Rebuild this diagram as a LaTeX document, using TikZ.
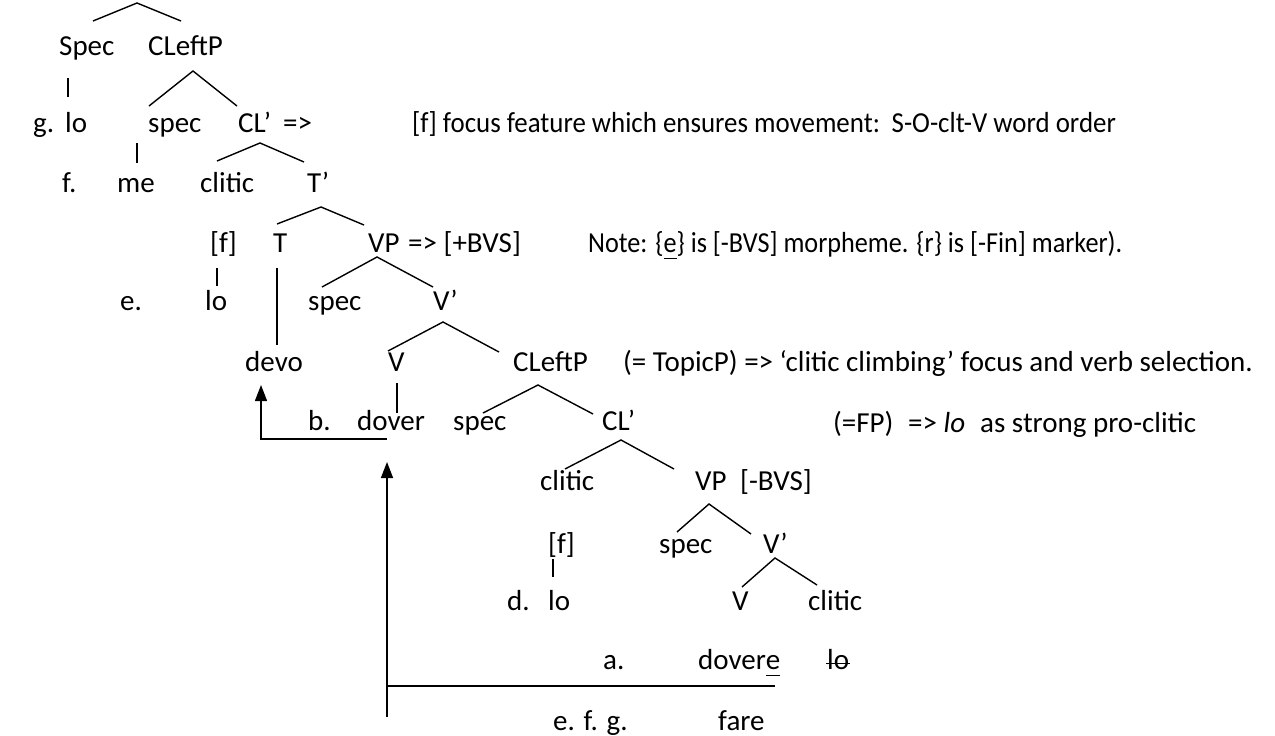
\documentclass[tikz,border=0pt]{standalone}
\usepackage{fontspec}
\usepackage{graphicx}
\setmainfont{Carlito}
\usetikzlibrary{arrows.meta}
\newcommand{\myul}[1]{\setbox0\hbox{#1}\rlap{\rule[-7pt]{\wd0}{1.5pt}}\box0}
\newcommand{\mystrike}[1]{\setbox0\hbox{#1}\rlap{\kern-1pt\rule[5pt]{\dimexpr\wd0+2pt\relax}{1.5pt}}\box0}
\begin{document}
\begin{tikzpicture}[x=1pt,y=-1pt,
  txt/.style={anchor=base west, inner sep=0pt, font=\fontsize{29}{34}\selectfont},
  br/.style={line width=1.4pt},
  arr/.style={line width=1.4pt, -{Triangle[width=12pt,length=16pt]}}]
\useasboundingbox (0,0) rectangle (1275,736);
% Row 1
\node[txt] (Spec1) at (59,55) {Spec};
\node[txt] (CLeftP1) at (148,55) {CLeftP};
% Row 2
\node[txt] (g) at (33,132) {g.};
\node[txt] (lo1) at (65,132) {lo};
\node[txt] (spec1) at (148,132) {spec};
\node[txt] (CL1) at (238,132) {CL’};
\node[txt] (arr1) at (283,132) {=>};
\node[txt] (note1) at (412,132) {\scalebox{0.927}[1]{[f] focus feature which ensures movement:\hspace{4pt} S-O-clt-V word order}};
% Row 3
\node[txt] (f) at (62,192) {f.};
\node[txt] (me) at (117,192) {me};
\node[txt] (clitic1) at (200,192) {clitic};
\node[txt] (Tbar) at (307,192) {T’};
% Row 4
\node[txt] (ff1) at (210,252) {[f]};
\node[txt] (T) at (273,252) {T};
\node[txt] (VP1) at (368,252) {VP};
\node[txt] (bvs1) at (408,252) {=> [+BVS]};
\node[txt] (note2) at (588,252) {\scalebox{0.903}[1]{Note: \{\myul{e}\} is [-BVS] morpheme. \{r\} is [-Fin] marker).}};
% Row 5
\node[txt] (e1) at (120,310) {e.};
\node[txt] (lo2) at (205,310) {lo};
\node[txt] (spec2) at (308,310) {spec};
\node[txt] (Vbar1) at (433,310) {V’};
% Row 6
\node[txt] (devo) at (245,371) {devo};
\node[txt] (V1) at (388,371) {V};
\node[txt] (CLeftP2) at (513,371) {CLeftP};
\node[txt] (note3) at (623,371) {(= TopicP) => ‘clitic climbing’ focus and verb selection.};
% Row 7
\node[txt] (b) at (308,430) {b.};
\node[txt] (dover) at (357,430) {dover};
\node[txt] (spec3) at (453,430) {spec};
\node[txt] (CL2) at (602,430) {CL’};
\node[txt] (fp) at (833,432) {(=FP)};
\node[txt] (fp2) at (908,432) {=> \textit{lo}};
\node[txt] (fp3) at (980,432) {as strong pro-clitic};
% Row 8
\node[txt] (clitic2) at (540,490) {clitic};
\node[txt] (VP2) at (695,490) {VP};
\node[txt] (bvs2) at (740,490) {[-BVS]};
% Row 9
\node[txt] (ff2) at (548,553) {[f]};
\node[txt] (spec4) at (659,553) {spec};
\node[txt] (Vbar2) at (763,553) {V’};
% Row 10
\node[txt] (d) at (507,610) {d.};
\node[txt] (lo3) at (548,610) {lo};
\node[txt] (V2) at (732,610) {V};
\node[txt] (clitic3) at (808,610) {clitic};
% Row 11
\node[txt] (a) at (603,669) {a.};
\node[txt] (dovere) at (698,669) {dover\myul{e}};
\node[txt] (lo4) at (827,669) {\mystrike{lo}};
% Row 12
\node[txt] (efg) at (553,730) {e. f. g.};
\node[txt] (fare) at (718,730) {fare};
% branch coordinates
\coordinate (t0) at (137,3);   \coordinate (t0l) at (93,21);   \coordinate (t0r) at (181,21);
\coordinate (s1a) at (68,78);  \coordinate (s1b) at (68,97);
\coordinate (c1) at (193,71);  \coordinate (c1l) at (149,106); \coordinate (c1r) at (237,106);
\coordinate (m1a) at (137,143); \coordinate (m1b) at (137,163);
\coordinate (c2) at (260,143); \coordinate (c2l) at (217,161); \coordinate (c2r) at (304,162);
\coordinate (t1) at (321,207); \coordinate (t1l) at (277,224); \coordinate (t1r) at (364,225);
\coordinate (f1a) at (217,268); \coordinate (f1b) at (217,286);
\coordinate (Ta) at (277,268); \coordinate (Tb) at (277,345);
\coordinate (v1) at (377,257); \coordinate (v1l) at (322,287); \coordinate (v1r) at (433,287);
\coordinate (v2) at (443,322); \coordinate (v2l) at (388,351); \coordinate (v2r) at (499,352);
\coordinate (Va) at (397,383); \coordinate (Vb) at (397,413);
\coordinate (c3) at (538,385); \coordinate (c3l) at (483,413); \coordinate (c3r) at (593,414);
\coordinate (c4) at (621,440); \coordinate (c4l) at (565,469); \coordinate (c4r) at (674,469);
\coordinate (v3) at (709,504); \coordinate (v3l) at (677,532); \coordinate (v3r) at (751,534);
\coordinate (f2a) at (553,559); \coordinate (f2b) at (553,577);
\coordinate (v4) at (775,558); \coordinate (v4l) at (742,587); \coordinate (v4r) at (817,585);
% arrows coordinates
\coordinate (dA) at (387,439); \coordinate (dTip) at (261,385);
\coordinate (bBot) at (387,717); \coordinate (bTip) at (387,462);
\coordinate (bCorner) at (387,686); \coordinate (bEnd) at (775,686);
% branches
\draw[br] (t0l) -- (t0) -- (t0r);
\draw[br] (s1a) -- (s1b);
\draw[br] (c1l) -- (c1) -- (c1r);
\draw[br] (m1a) -- (m1b);
\draw[br] (c2l) -- (c2) -- (c2r);
\draw[br] (t1l) -- (t1) -- (t1r);
\draw[br] (f1a) -- (f1b);
\draw[br] (Ta) -- (Tb);
\draw[br] (v1l) -- (v1) -- (v1r);
\draw[br] (v2l) -- (v2) -- (v2r);
\draw[br] (Va) -- (Vb);
\draw[br] (c3l) -- (c3) -- (c3r);
\draw[br] (c4l) -- (c4) -- (c4r);
\draw[br] (v3l) -- (v3) -- (v3r);
\draw[br] (f2a) -- (f2b);
\draw[br] (v4l) -- (v4) -- (v4r);
% movement arrows
\draw[arr] (dA) -| (dTip);
\draw[arr] (bBot) -- (bTip);
\draw[br] (bCorner) -- (bEnd);
\end{tikzpicture}
\end{document}
